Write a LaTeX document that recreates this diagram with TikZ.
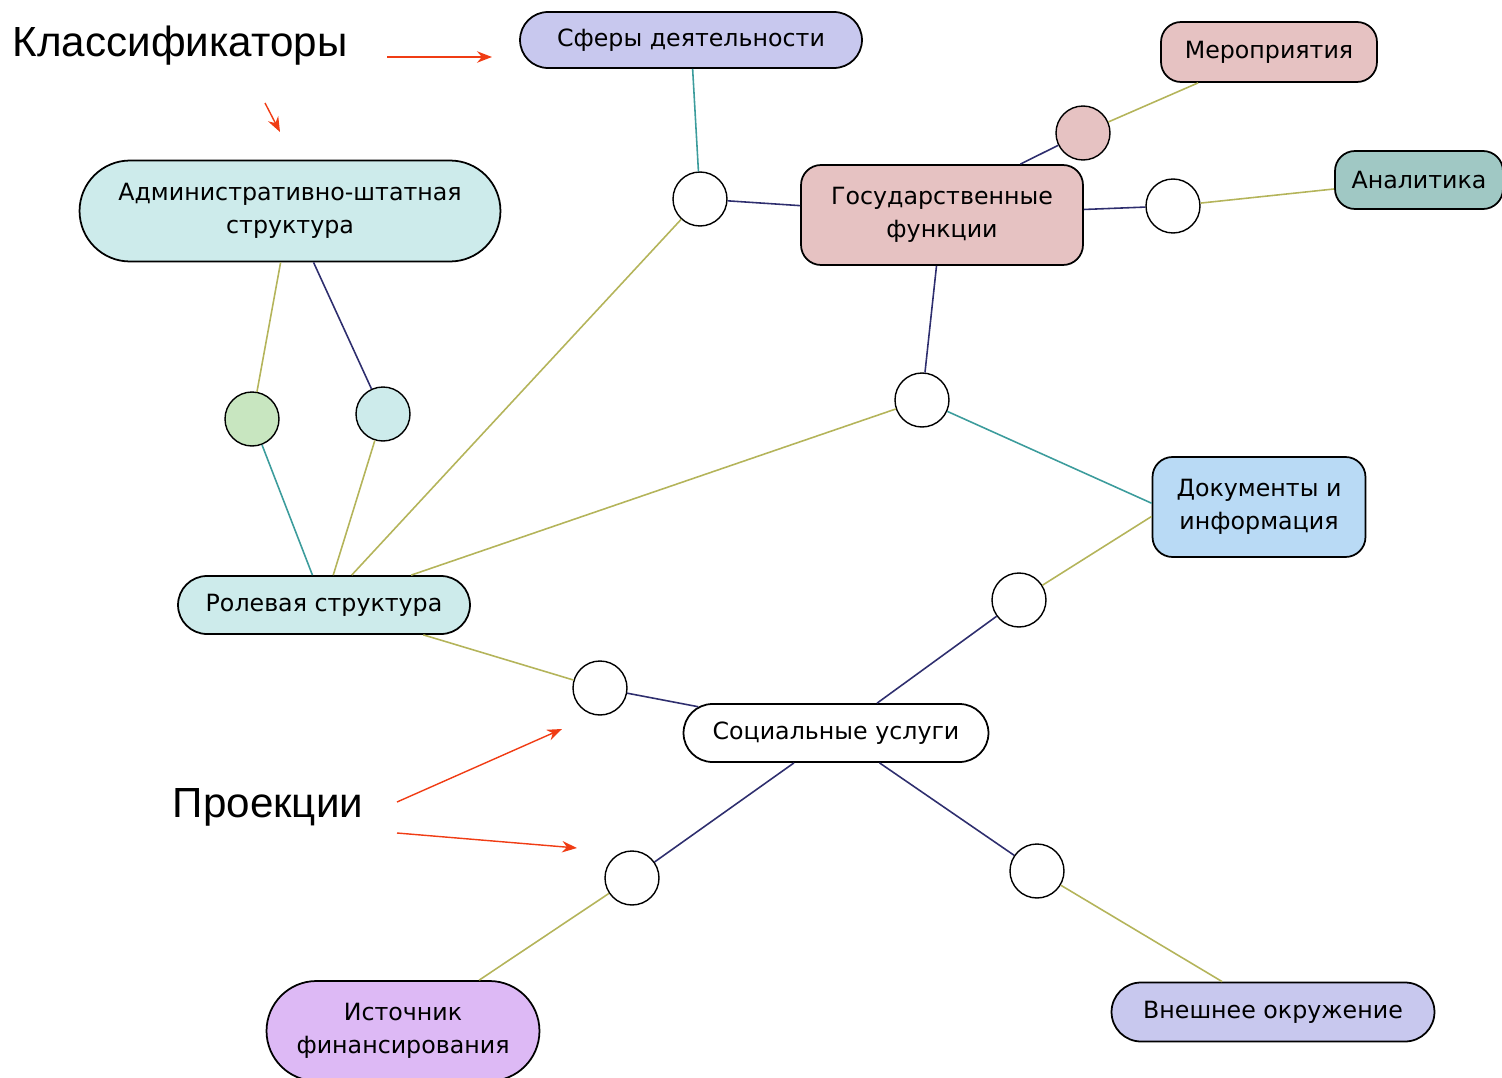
\documentclass[tikz,border=0pt]{standalone}
\usepackage{fontspec}
\setmainfont{DejaVu Sans}
\newfontfamily\bigfont{Liberation Sans}
\usetikzlibrary{shapes.misc, arrows.meta}

\definecolor{sferafill}{RGB}{200,200,238}
\definecolor{pinkfill}{RGB}{230,194,194}
\definecolor{analitfill}{RGB}{160,200,196}
\definecolor{cyanfill}{RGB}{205,235,235}
\definecolor{greenfill}{RGB}{200,230,192}
\definecolor{docfill}{RGB}{185,218,245}
\definecolor{purplefill}{RGB}{221,185,245}
\definecolor{linenavy}{RGB}{46,46,110}
\definecolor{lineolive}{RGB}{180,180,90}
\definecolor{lineteal}{RGB}{60,156,156}
\definecolor{arrowred}{RGB}{240,60,20}

\begin{document}
\begin{tikzpicture}[
    x=0.02cm, y=-0.02cm,
    capsule/.style={rounded rectangle, draw, line width=1pt, inner sep=0pt, align=center, font=\fontsize{13.5}{19}\selectfont},
    roundbox/.style={rectangle, rounded corners=0.4cm, draw, line width=1pt, inner sep=0pt, align=center, font=\fontsize{13.5}{19}\selectfont},
    hub/.style={circle, draw, line width=0.8pt, minimum size=1.08cm, inner sep=0pt, fill=white},
    navy/.style={draw=linenavy, line width=0.9pt},
    olive/.style={draw=lineolive, line width=0.9pt},
    teal/.style={draw=lineteal, line width=0.9pt},
    note/.style={font=\bigfont\fontsize{24}{28}\selectfont},
    pointer/.style={-{Stealth[length=8.5pt, width=6.5pt]}, draw=arrowred, fill=arrowred, line width=0.8pt}
]
    \useasboundingbox (0,0) rectangle (1502,1078);

    \node[note] (klass) at (180,46) {Классификаторы};
    \node[note] (proek) at (268,807) {Проекции};

    \node[capsule, fill=sferafill, minimum width=6.84cm, minimum height=1.12cm] (sfera) at (691,40) {Сферы деятельности};
    \node[roundbox, fill=pinkfill, minimum width=4.32cm, minimum height=1.2cm] (merop) at (1269,52) {Мероприятия};
    \node[roundbox, fill=analitfill, minimum width=3.36cm, minimum height=1.16cm] (analit) at (1419,180) {Аналитика};
    \node[capsule, fill=cyanfill, minimum width=8.42cm, minimum height=2.02cm] (admin) at (290,211) {Административно-штатная\\структура};
    \node[roundbox, fill=pinkfill, minimum width=5.64cm, minimum height=2cm] (gos) at (942,215) {Государственные\\функции};
    \node[roundbox, fill=docfill, minimum width=4.26cm, minimum height=2cm] (doc) at (1259,507) {Документы и\\информация};
    \node[capsule, fill=cyanfill, minimum width=5.84cm, minimum height=1.16cm] (role) at (324,605) {Ролевая структура};
    \node[capsule, fill=white, minimum width=6.1cm, minimum height=1.16cm] (social) at (836,733) {Социальные услуги};
    \node[capsule, fill=purplefill, minimum width=5.46cm, minimum height=2cm] (fin) at (403,1031) {Источник\\финансирования};
    \node[capsule, fill=sferafill, minimum width=6.46cm, minimum height=1.18cm] (vnesh) at (1273,1012) {Внешнее окружение};

    \node[hub] (h1) at (700,199) {};
    \node[hub, fill=pinkfill] (h2) at (1083,133) {};
    \node[hub] (h3) at (1173,206) {};
    \node[hub, fill=greenfill] (h4) at (252,419) {};
    \node[hub, fill=cyanfill] (h5) at (383,414) {};
    \node[hub] (h6) at (922,400) {};
    \node[hub] (h7) at (1019,600) {};
    \node[hub] (h8) at (600,688) {};
    \node[hub] (h9) at (632,878) {};
    \node[hub] (h10) at (1037,871) {};

    \draw[teal] (sfera) -- (h1);
    \draw[navy] (h1) -- (gos);
    \draw[olive] (h1) -- (role);
    \draw[navy] (gos.33) -- (h2);
    \draw[olive] (h2) -- (merop);
    \draw[navy] (gos) -- (h3);
    \draw[olive] (h3) -- (analit);
    \draw[olive] (admin) -- (h4);
    \draw[teal] (h4) -- (role);
    \draw[navy] (admin) -- (h5);
    \draw[olive] (h5) -- (role);
    \draw[navy] (gos) -- (h6);
    \draw[olive] (h6) -- (role);
    \draw[teal] (h6) -- (doc.178);
    \draw[olive] (doc.185) -- (h7);
    \draw[navy] (h7) -- (social);
    \draw[olive] (role) -- (h8);
    \draw[navy] (h8) -- (social);
    \draw[navy] (social) -- (h9);
    \draw[olive] (h9) -- (fin);
    \draw[navy] (social) -- (h10);
    \draw[olive] (h10) -- (vnesh);

    \coordinate (k1) at (387,57);
    \coordinate (k2) at (492,57);
    \coordinate (k3) at (265,103);
    \coordinate (k4) at (280,132);
    \coordinate (p1) at (397,802);
    \coordinate (p2) at (562,729);
    \coordinate (p3) at (397,833);
    \coordinate (p4) at (577,848);
    \draw[pointer] (k1) -- (k2);
    \draw[pointer] (k3) -- (k4);
    \draw[pointer] (p1) -- (p2);
    \draw[pointer] (p3) -- (p4);
\end{tikzpicture}
\end{document}
